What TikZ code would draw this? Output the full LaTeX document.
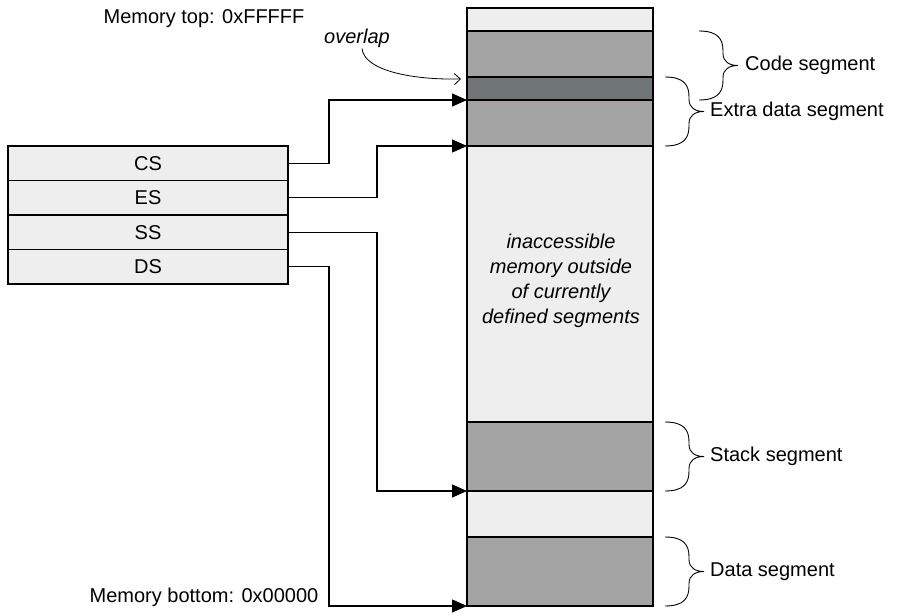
\documentclass[tikz,border=0pt]{standalone}
\usepackage{fontspec}
\setmainfont{Liberation Sans}
\usetikzlibrary{arrows.meta,calc}
\definecolor{lightg}{HTML}{EEEEEE}
\definecolor{midg}{HTML}{A4A4A5}
\definecolor{darkg}{HTML}{6F7474}
% #1 = x of the brace ends, #2 = top y, #3 = bottom y
\newcommand\drawbrace[3]{%
  \draw[brc] (#1,#2) .. controls ({#1+19},#2) and ({#1+24},{#2+8}) .. ({#1+24},{#2+20})
    -- ({#1+24},{(#2+#3)/2-12}) .. controls ({#1+24},{(#2+#3)/2-4}) and ({#1+30},{(#2+#3)/2}) .. ({#1+39},{(#2+#3)/2})
    .. controls ({#1+30},{(#2+#3)/2}) and ({#1+24},{(#2+#3)/2+4}) .. ({#1+24},{(#2+#3)/2+12})
    -- ({#1+24},{#3-20}) .. controls ({#1+24},{#3-8}) and ({#1+19},#3) .. (#1,#3);}
\begin{document}
\begin{tikzpicture}[x=1pt,y=-1pt,
  font=\fontsize{20}{25}\selectfont,
  band/.style={draw, line width=1.6pt, minimum width=186pt, inner sep=0pt, outer sep=0pt},
  reg/.style={draw, line width=1.6pt, fill=lightg, minimum width=280pt, minimum height=34.5pt, inner sep=0pt, outer sep=0pt},
  conn/.style={line width=1.4pt, -{Triangle[length=15pt,width=13pt]}},
  brc/.style={line width=0.9pt},
  lbl/.style={anchor=west, inner sep=0pt}]
\useasboundingbox (0,0) rectangle (901,615);
% memory column
\node[band, fill=lightg, minimum height=23pt] (topb) at (560,19.5) {};
\node[band, fill=midg, minimum height=46pt] (code) at (560,54) {};
\node[band, fill=darkg, minimum height=23pt] (ovb) at (560,88.5) {};
\node[band, fill=midg, minimum height=46pt] (extra) at (560,123) {};
\node[band, fill=lightg, minimum height=276pt] (inacc) at (560,284) {};
\node[band, fill=midg, minimum height=69pt] (stack) at (560,456.5) {};
\node[band, fill=lightg, minimum height=46pt] (gap) at (560,514) {};
\node[band, fill=midg, minimum height=69pt] (data) at (560,571.5) {};
\node[align=center, font=\fontsize{20}{25}\selectfont\itshape] (inacctext) at (561,281)
  {inaccessible\\memory outside\\of currently\\defined segments};
% registers
\node[reg] (cs) at (148,163.25) {CS};
\node[reg] (es) at (148,197.75) {ES};
\node[reg] (ss) at (148,232.25) {SS};
\node[reg] (ds) at (148,266.75) {DS};
% connectors
\coordinate (xa) at (329,0);
\coordinate (xb) at (377,0);
\draw[conn] (cs.east) -- (cs.east -| xa) |- (extra.north west);
\draw[conn] (es.east) -- (es.east -| xb) |- (extra.south west);
\draw[conn] (ss.east) -- (ss.east -| xb) |- (stack.south west);
\draw[conn] (ds.east) -- (ds.east -| xa) |- (data.south west);
% labels
\node[inner sep=0pt] (memtop) at (204,19) {Memory top: 0xFFFFF};
\node[inner sep=0pt] (membot) at (204,597) {Memory bottom: 0x00000};
\node[font=\fontsize{20}{25}\selectfont\itshape, inner sep=1pt] (ovl) at (357,38) {overlap};
\draw[line width=0.8pt, -{Straight Barb[length=6pt,width=11pt]}] ([xshift=5pt]ovl.south) .. controls (364,70) and (410,80) .. ([xshift=-6pt,yshift=-2pt]ovb.north west);
% braces
\drawbrace{699}{31}{100}
\drawbrace{665}{77}{146}
\drawbrace{665}{422}{491}
\drawbrace{665}{537}{606}
\node[lbl] (lcode) at (745,65.5) {Code segment};
\node[lbl] (lextra) at (710,111.5) {Extra data segment};
\node[lbl] (lstack) at (710,456.5) {Stack segment};
\node[lbl] (ldata) at (710,571.5) {Data segment};
\end{tikzpicture}
\end{document}
